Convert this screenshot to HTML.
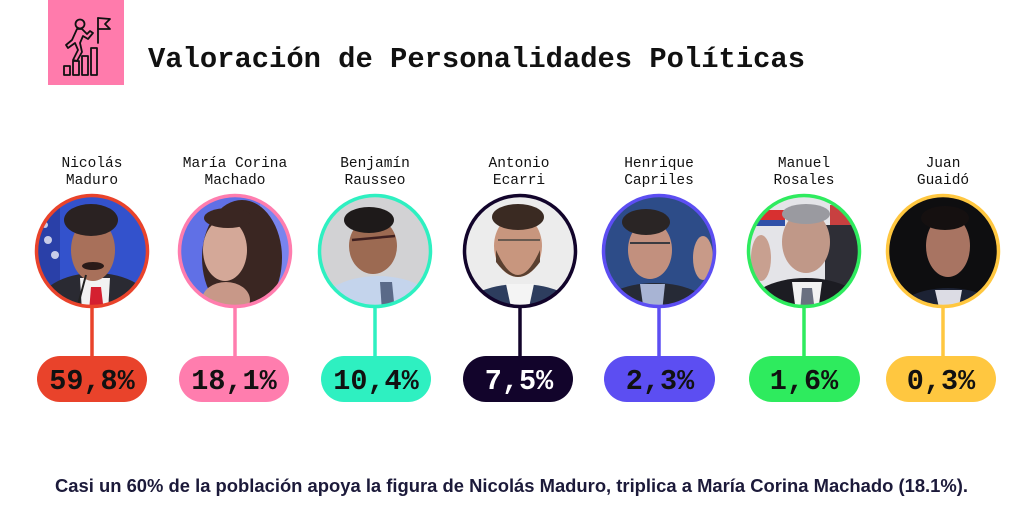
<!DOCTYPE html>
<html><head><meta charset="utf-8"><style>
html,body{margin:0;padding:0;background:#fff;}
svg{display:block;}
</style></head><body>
<svg width="1024" height="519" viewBox="0 0 1024 519" xmlns="http://www.w3.org/2000/svg">
<defs>
<clipPath id="c1"><circle cx="92" cy="251" r="55"/></clipPath>
<clipPath id="c2"><circle cx="235" cy="251" r="55"/></clipPath>
<clipPath id="c3"><circle cx="375" cy="251" r="55"/></clipPath>
<clipPath id="c4"><circle cx="520" cy="251" r="55"/></clipPath>
<clipPath id="c5"><circle cx="659" cy="251" r="55"/></clipPath>
<clipPath id="c6"><circle cx="804" cy="251" r="55"/></clipPath>
<clipPath id="c7"><circle cx="943" cy="251" r="55"/></clipPath>
</defs>
<rect width="1024" height="519" fill="#fff"/>

<!-- header icon -->
<rect x="48" y="0" width="76" height="85" fill="#FF7BAC"/>
<g fill="none" stroke="#111" stroke-width="1.8" stroke-linejoin="round" stroke-linecap="round">
<rect x="64" y="66" width="6" height="9"/>
<rect x="73" y="61" width="6" height="14"/>
<rect x="82" y="56" width="6" height="19"/>
<rect x="91" y="48" width="6" height="27"/>
<line x1="98" y1="18" x2="98" y2="43"/>
<path d="M98 18 L110 19 L105 24 L110 29 L98 29"/>
<circle cx="80" cy="24" r="4.5"/>
<path d="M77 29 L72 40 L66 45 L68 48 L75 43 L78 50 L73 60 L77 61 L82 52 L80 43 L83 36 L88 39 L93 33 L90 31 L87 34 L82 29 Z"/>
</g>
<text x="148" y="67" font-family="'Liberation Mono', monospace" font-weight="bold" font-size="29" fill="#111" textLength="657" lengthAdjust="spacingAndGlyphs">Valoración de Personalidades Políticas</text>

<!-- names -->
<g font-family="'Liberation Mono', monospace" font-size="14.5" fill="#111" text-anchor="middle">
<text x="92" y="167">Nicolás</text><text x="92" y="184">Maduro</text>
<text x="235" y="167">María Corina</text><text x="235" y="184">Machado</text>
<text x="375" y="167">Benjamín</text><text x="375" y="184">Rausseo</text>
<text x="519" y="167">Antonio</text><text x="519" y="184">Ecarri</text>
<text x="659" y="167">Henrique</text><text x="659" y="184">Capriles</text>
<text x="804" y="167">Manuel</text><text x="804" y="184">Rosales</text>
<text x="943" y="167">Juan</text><text x="943" y="184">Guaidó</text>
</g>

<!-- stems -->
<g stroke-width="3.5">
<line x1="92" y1="305" x2="92" y2="358" stroke="#E9432B"/>
<line x1="235" y1="305" x2="235" y2="358" stroke="#FF7DAE"/>
<line x1="375" y1="305" x2="375" y2="358" stroke="#2EF0C1"/>
<line x1="520" y1="305" x2="520" y2="358" stroke="#12042B"/>
<line x1="659" y1="305" x2="659" y2="358" stroke="#5C4EF2"/>
<line x1="804" y1="305" x2="804" y2="358" stroke="#2EEB5E"/>
<line x1="943" y1="305" x2="943" y2="358" stroke="#FFC740"/>
</g>

<!-- photo 1 Maduro -->
<g clip-path="url(#c1)">
<rect x="30" y="190" width="130" height="125" fill="#3352cc"/>
<rect x="30" y="190" width="30" height="125" fill="#2a40a8"/>
<circle cx="48" cy="240" r="4" fill="#c8cce8"/><circle cx="55" cy="255" r="4" fill="#c8cce8"/><circle cx="45" cy="225" r="3" fill="#c8cce8"/>
<ellipse cx="95" cy="308" rx="58" ry="35" fill="#2a2a32"/>
<polygon points="80,278 110,278 108,312 82,312" fill="#f2f2f2"/>
<polygon points="91,287 101,287 104,312 89,312" fill="#d42030"/>
<ellipse cx="93" cy="250" rx="22" ry="31" fill="#a8705a"/>
<ellipse cx="91" cy="220" rx="27" ry="16" fill="#2a2222"/>
<ellipse cx="93" cy="266" rx="11" ry="4" fill="#2a1a18"/>
<line x1="86" y1="275" x2="78" y2="305" stroke="#222" stroke-width="2"/>
</g>
<circle cx="92" cy="251" r="55.5" fill="none" stroke="#E9432B" stroke-width="3.5"/>

<!-- photo 2 Machado -->
<g clip-path="url(#c2)">
<rect x="175" y="190" width="125" height="125" fill="#6070e6"/>
<rect x="260" y="190" width="40" height="125" fill="#7884ee"/>
<ellipse cx="242" cy="258" rx="40" ry="58" fill="#3a2622"/>
<ellipse cx="226" cy="300" rx="24" ry="18" fill="#c89888"/>
<ellipse cx="225" cy="250" rx="22" ry="31" fill="#d4a898"/>
<ellipse cx="228" cy="218" rx="24" ry="10" fill="#3a2622"/>
</g>
<circle cx="235" cy="251" r="55.5" fill="none" stroke="#FF7DAE" stroke-width="3.5"/>

<!-- photo 3 Rausseo -->
<g clip-path="url(#c3)">
<rect x="315" y="190" width="125" height="125" fill="#d2d2d4"/>
<ellipse cx="378" cy="312" rx="62" ry="36" fill="#c4d4ec"/>
<polygon points="380,282 392,282 395,312 382,312" fill="#5a6a88"/>
<ellipse cx="373" cy="246" rx="24" ry="28" fill="#9c6a52"/>
<ellipse cx="369" cy="220" rx="25" ry="13" fill="#1e1a1a"/>
<line x1="352" y1="240" x2="395" y2="236" stroke="#402020" stroke-width="2.5"/>
</g>
<circle cx="375" cy="251" r="55.5" fill="none" stroke="#2EF0C1" stroke-width="3.5"/>

<!-- photo 4 Ecarri -->
<g clip-path="url(#c4)">
<rect x="460" y="190" width="125" height="125" fill="#ececec"/>
<ellipse cx="520" cy="316" rx="62" ry="32" fill="#2d3d5e"/>
<polygon points="506,284 534,284 528,312 512,312" fill="#f4f4f4"/>
<ellipse cx="518" cy="246" rx="24" ry="31" fill="#c8967e"/>
<path d="M496 250 Q518 300 540 250 L540 262 Q518 292 496 262 Z" fill="#5a4030"/>
<ellipse cx="518" cy="217" rx="26" ry="13" fill="#3a2a22"/>
<line x1="498" y1="240" x2="540" y2="240" stroke="#6a5a50" stroke-width="2"/>
</g>
<circle cx="520" cy="251" r="55.5" fill="none" stroke="#12042B" stroke-width="3.5"/>

<!-- photo 5 Capriles -->
<g clip-path="url(#c5)">
<rect x="600" y="190" width="125" height="125" fill="#2d4c88"/>
<ellipse cx="655" cy="315" rx="60" ry="32" fill="#262a36"/>
<polygon points="640,284 665,284 662,312 644,312" fill="#a8b4d4"/>
<ellipse cx="650" cy="250" rx="22" ry="29" fill="#c2907e"/>
<ellipse cx="646" cy="222" rx="24" ry="13" fill="#2a2525"/>
<ellipse cx="703" cy="258" rx="10" ry="22" fill="#c89a88"/>
<line x1="630" y1="243" x2="670" y2="243" stroke="#3a3a40" stroke-width="2"/>
</g>
<circle cx="659" cy="251" r="55.5" fill="none" stroke="#5C4EF2" stroke-width="3.5"/>

<!-- photo 6 Rosales -->
<g clip-path="url(#c6)">
<rect x="745" y="190" width="125" height="125" fill="#e4e4e8"/>
<rect x="745" y="210" width="40" height="10" fill="#d83030"/>
<rect x="745" y="220" width="40" height="6" fill="#3050a8"/>
<rect x="830" y="205" width="35" height="20" fill="#c84040"/>
<rect x="825" y="225" width="45" height="90" fill="#2e2e36"/>
<ellipse cx="806" cy="312" rx="62" ry="34" fill="#1c1c22"/>
<polygon points="792,282 822,282 818,312 796,312" fill="#f2f2f2"/>
<polygon points="802,288 812,288 815,312 800,312" fill="#6a7080"/>
<ellipse cx="806" cy="242" rx="24" ry="31" fill="#c09888"/>
<ellipse cx="806" cy="214" rx="24" ry="10" fill="#9a9aa0"/>
<ellipse cx="761" cy="258" rx="10" ry="23" fill="#c8a090"/>
</g>
<circle cx="804" cy="251" r="55.5" fill="none" stroke="#2EEB5E" stroke-width="3.5"/>

<!-- photo 7 Guaido -->
<g clip-path="url(#c7)">
<rect x="885" y="190" width="125" height="125" fill="#0e0e10"/>
<ellipse cx="948" cy="318" rx="55" ry="30" fill="#1c2234"/>
<polygon points="935,290 962,290 958,312 940,312" fill="#dcdce4"/>
<ellipse cx="948" cy="246" rx="22" ry="31" fill="#a87462"/>
<ellipse cx="945" cy="218" rx="24" ry="12" fill="#151010"/>
</g>
<circle cx="943" cy="251" r="55.5" fill="none" stroke="#FFC740" stroke-width="3.5"/>

<!-- pills -->
<rect x="37" y="356" width="110" height="46" rx="23" fill="#E9432B"/>
<rect x="179" y="356" width="110" height="46" rx="23" fill="#FF7DAE"/>
<rect x="321" y="356" width="110" height="46" rx="23" fill="#2EF0C1"/>
<rect x="463" y="356" width="110" height="46" rx="23" fill="#12042B"/>
<rect x="604" y="356" width="111" height="46" rx="23" fill="#5C4EF2"/>
<rect x="749" y="356" width="111" height="46" rx="23" fill="#2EEB5E"/>
<rect x="886" y="356" width="110" height="46" rx="23" fill="#FFC740"/>
<g font-family="'Liberation Mono', monospace" font-weight="bold" font-size="28.5" text-anchor="middle" fill="#111">
<text x="92" y="389">59,8%</text>
<text x="234" y="389">18,1%</text>
<text x="376" y="389">10,4%</text>
<text x="519" y="389" fill="#fff">7,5%</text>
<text x="660" y="389">2,3%</text>
<text x="804" y="389">1,6%</text>
<text x="941" y="389">0,3%</text>
</g>

<!-- footer -->
<text x="55" y="492" font-family="'Liberation Sans', sans-serif" font-weight="bold" font-size="18" fill="#1c1a3a" textLength="913" lengthAdjust="spacingAndGlyphs">Casi un 60% de la población apoya la figura de Nicolás Maduro, triplica a María Corina Machado (18.1%).</text>
</svg>
</body></html>
